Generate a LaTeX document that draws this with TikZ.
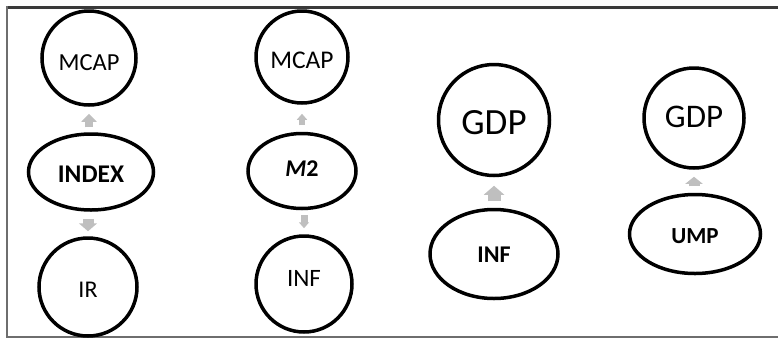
\documentclass[tikz,border=0pt]{standalone}
\usepackage{fontspec}
\setmainfont{Carlito}
\usetikzlibrary{shapes.geometric,arrows.meta}
\definecolor{arrowgray}{HTML}{BFBFBF}
\definecolor{topgray}{HTML}{3A3A3A}
\definecolor{sidegray}{HTML}{6E6E6E}
\tikzset{
  circ/.style={circle, draw=black, line width=3.5pt, inner sep=0pt},
  ell/.style={ellipse, draw=black, line width=3.5pt, inner sep=0pt},
  fs/.style={font=\fontsize{#1}{#1}\selectfont},
  blk/.style n args={3}{draw=arrowgray, line width=#1, -{Triangle[width=#2,length=#3]}}
}
\begin{document}
\begin{tikzpicture}[x=1pt,y=-1pt]
\useasboundingbox (0,0) rectangle (778,338);
% frame
\draw[topgray, line width=3pt] (6,7.5) -- (778,7.5);
\draw[sidegray, line width=2pt] (7,6) -- (7,338);
\draw[sidegray, line width=2pt] (6,337) -- (778,337);
% column 1
\node[circ, minimum size=94pt, label={[fs=24.5, yshift=-5pt]center:MCAP}] (mcapA) at (89,58) {};
\node[ell, minimum width=125pt, minimum height=76pt, label={[fs=25.5, yshift=-2pt]center:\textbf{INDEX}}] (idx) at (91,172) {};
\node[circ, minimum size=98pt, label={[fs=24, yshift=-3pt]center:IR}] (ir) at (88,287) {};
% column 2
\node[circ, minimum size=92pt, label={[fs=25.5, yshift=-3pt]center:MCAP}] (mcapB) at (302,57) {};
\node[ell, minimum width=108pt, minimum height=75pt, label={[fs=24, yshift=2pt]center:\textbf{\textit{M}2}}] (mtwo) at (302,171) {};
\node[circ, minimum size=96pt, label={[fs=25, yshift=6pt]center:INF}] (infA) at (304,284) {};
% column 3
\node[circ, minimum size=111pt, label={[fs=37, yshift=-3pt]center:GDP}] (gdpA) at (494,120) {};
\node[ell, minimum width=128pt, minimum height=89pt, label={[fs=24, yshift=-1pt]center:\textbf{INF}}] (infB) at (494,254) {};
% column 4
\node[circ, minimum size=100pt, label={[fs=33, yshift=1pt]center:GDP}] (gdpB) at (694,118) {};
\node[ell, minimum width=131pt, minimum height=79pt, label={[fs=23, yshift=-2pt]center:\textbf{UMP}}] (ump) at (695,234) {};
% arrows
\draw[blk={8pt}{15pt}{8pt}, shorten <=5pt, shorten >=7pt] (idx.north -| mcapA) -- (mcapA.south);
\draw[blk={11pt}{18pt}{8pt}, shorten <=7pt, shorten >=5pt] (idx.south -| ir) -- (ir.north);
\draw[blk={6pt}{10pt}{6pt}, shorten <=6.5pt, shorten >=9pt] (mtwo.north -| mcapB) -- (mcapB.south);
\draw[blk={7pt}{10pt}{6pt}, shorten <=4.5pt, shorten >=6pt] (mtwo.south -| infA) -- (infA.north);
\draw[blk={13pt}{20pt}{9pt}, shorten <=6.5pt, shorten >=8.5pt] (infB.north -| gdpA) -- (gdpA.south);
\draw[blk={11pt}{17pt}{7pt}, shorten <=6.5pt, shorten >=7pt] (ump.north -| gdpB) -- (gdpB.south);
\end{tikzpicture}
\end{document}
